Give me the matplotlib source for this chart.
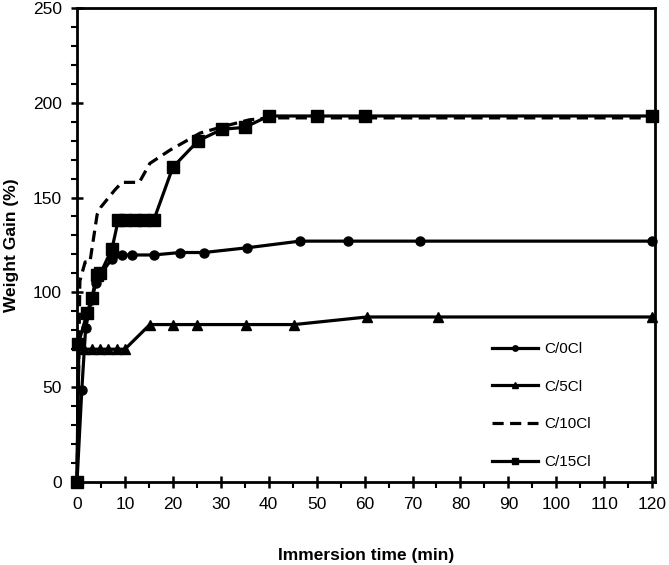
import numpy as np
import matplotlib.pyplot as plt
from matplotlib.ticker import MultipleLocator

plt.rcParams['font.family'] = ['Liberation Sans', 'DejaVu Sans']

# data
t_0cl = [0, 1, 1.8, 3, 4, 5, 7.3, 9.4, 11.4, 16, 21.5, 26.5, 35.5, 46.5, 56.5, 71.5, 120]
w_0cl = [0, 48.5, 81, 96, 105, 110, 117.6, 119.7, 119.7, 119.7, 121, 121, 123.5, 127, 127, 127, 127]

t_5cl = [0, 0.4, 1.5, 3.1, 4.8, 6.5, 8.4, 10, 15.2, 20, 25, 35.3, 45.3, 60.5, 75.4, 120]
w_5cl = [0, 73, 70, 70, 70, 70, 70, 70, 83, 83, 83, 83, 83, 87, 87, 87]

t_10cl = [0, 0.6, 1.7, 2.7, 4.2, 5, 7.9, 9.4, 13, 15.2, 19.4, 25.7, 31.3, 36, 40, 120]
w_10cl = [0, 106, 116, 116, 141, 145, 154, 158, 158, 168, 175, 184, 188, 191, 192, 192]

t_15cl = [0, 0.3, 2.1, 3.1, 4.1, 4.9, 7.3, 8.6, 10, 12, 14, 16, 20, 25.3, 30.3, 35, 40, 50, 60, 120]
w_15cl = [0, 73, 89, 97, 109, 110, 123, 138, 138, 138, 138, 138, 166, 180, 186, 187, 193, 193, 193, 193]

fig = plt.figure(figsize=(6.69, 5.65), dpi=100)
ax = fig.add_axes([0.1151, 0.147, 0.864, 0.839])

lw = 2.3
ax.plot(t_0cl, w_0cl, '-o', color='black', lw=lw, ms=6.5, label='C/0Cl', clip_on=False)
ax.plot(t_5cl, w_5cl, '-^', color='black', lw=lw, ms=7.5, label='C/5Cl', clip_on=False)
ax.plot(t_10cl, w_10cl, '--', color='black', lw=lw, dashes=(3.5, 2), label='C/10Cl', clip_on=False)
ax.plot(t_15cl, w_15cl, '-s', color='black', lw=lw, ms=8, label='C/15Cl', clip_on=False)

ax.set_xlim(0, 120.6)
ax.set_ylim(0, 250)
ax.xaxis.set_major_locator(MultipleLocator(10))
ax.xaxis.set_minor_locator(MultipleLocator(5))
ax.yaxis.set_major_locator(MultipleLocator(50))
ax.yaxis.set_minor_locator(MultipleLocator(10))
ax.tick_params(which='major', direction='inout', length=8, width=1.8, labelsize=12.5, pad=7)
ax.tick_params(which='minor', direction='out', length=4, width=1.5)
for s in ax.spines.values():
    s.set_linewidth(2)

ax.set_xlabel('Immersion time (min)', fontsize=12.5, fontweight='bold', labelpad=26)
ax.set_ylabel('Weight Gain (%)', fontsize=12.5, fontweight='bold', labelpad=10)

ax.legend(loc='upper left', bbox_to_anchor=(0.718, 0.295), frameon=False,
          fontsize=11, labelspacing=1.55, handlelength=3, handletextpad=0.45,
          markerscale=0.6, borderaxespad=0, borderpad=0)

plt.savefig('out.png', dpi=100)
